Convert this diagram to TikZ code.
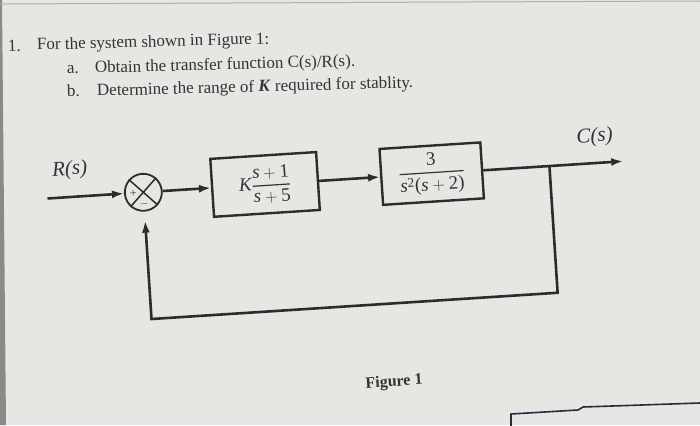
\documentclass[tikz,border=0pt]{standalone}
\usepackage{fontspec}
\setmainfont{Liberation Serif}
\usepackage{amsmath}
\usetikzlibrary{arrows.meta}
\definecolor{bg}{HTML}{E6E6E2}
\definecolor{ink}{HTML}{2C2C2C}
\definecolor{txtink}{HTML}{333333}
\definecolor{edge}{HTML}{8A8A88}
\definecolor{pen}{HTML}{2A2A3C}
\begin{document}
\begin{tikzpicture}[x=1pt,y=-1pt,
  line/.style={draw=ink, line width=2.6pt},
  arr/.style={line, -{Latex[length=12pt,width=8pt]}},
  blk/.style={draw=ink, line width=2.4pt, minimum width=106pt, minimum height=58pt, inner sep=0pt, text=txtink},
  lbl/.style={text=txtink, font=\fontsize{21}{24}\selectfont\itshape},
  txt/.style={text=txtink, font=\fontsize{17}{20}\selectfont, anchor=base west, rotate=1.5, inner sep=0pt},
  sgn/.style={text=txtink, font=\fontsize{12}{12}\selectfont, inner sep=0pt}]
\fill[bg] (0,0) rectangle (700,425);
\useasboundingbox (0,0) rectangle (700,425);
% photo edges
\fill[edge] (0,0) -- (2,0) -- (6,425) -- (0,425) -- cycle;
\draw[edge!60!bg, line width=1pt] (0,4) -- (700,1);
% question text
\node[txt] (n1) at (8,52) {1.};
\node[txt] (q) at (37,50) {For the system shown in Figure 1:};
\node[txt] (na) at (67,74) {a.};
\node[txt] (qa) at (95,73) {Obtain the transfer function C(s)/R(s).};
\node[txt] (nb) at (67,97) {b.};
\node[txt] (qb) at (97,96) {Determine the range of \textbf{\textit{K}} required for stablity.};
% diagram
\begin{scope}[rotate around={3.7:(350,212)}, transform shape]
  \coordinate (in) at (49,179);
  \node[circle, draw=ink, line width=1.8pt, minimum size=37pt, inner sep=0pt] (sum) at (145,179) {};
  \draw[ink, line width=1.5pt] (sum.north west) -- (sum.south east);
  \draw[ink, line width=1.5pt] (sum.north east) -- (sum.south west);
  \node[sgn] (plus) at (135,180) {+};
  \node[sgn] (minus) at (145,191) {$-$};
  \node[blk] (b1) at (267,179) {\fontsize{19}{22}\selectfont $\textit{K}\genfrac{}{}{1.2pt}{0}{\textit{s}+\textup{1}}{\textit{s}+\textup{5}}$};
  \node[blk, minimum width=101pt, minimum height=56pt] (b2) at (434,179) {\fontsize{19}{22}\selectfont $\genfrac{}{}{1.2pt}{0}{\textup{3}}{\textit{s}^{\textup{2}}\textup{(}\textit{s}+\textup{2}\textup{)}}$};
  \coordinate (br) at (552,179);
  \coordinate (out) at (626,179);
  \coordinate (fbR) at (552,306);
  \coordinate (fbL) at (145,306);
  \draw[arr] (in) -- (sum.west);
  \draw[arr] (sum.east) -- (b1.west);
  \draw[arr] (b1.east) -- (b2.west);
  \draw[arr] (b2.east) -- (out);
  \draw[arr, shorten >=9pt] (br) -- (fbR) -- (fbL) -- (sum.south);
  \node[lbl] (R) at (73,152) {R(s)};
  \node[lbl] (C) at (599,153) {C(s)};
  \node[text=txtink, font=\fontsize{16}{19}\selectfont\bfseries] (fig) at (383,385) {Figure 1};
\end{scope}
% handwriting fragment
\draw[pen, line width=1.6pt, line join=round] (511,426) -- (511,414) -- (578,410) -- (583,407) -- (700,403);
\end{tikzpicture}
\end{document}
